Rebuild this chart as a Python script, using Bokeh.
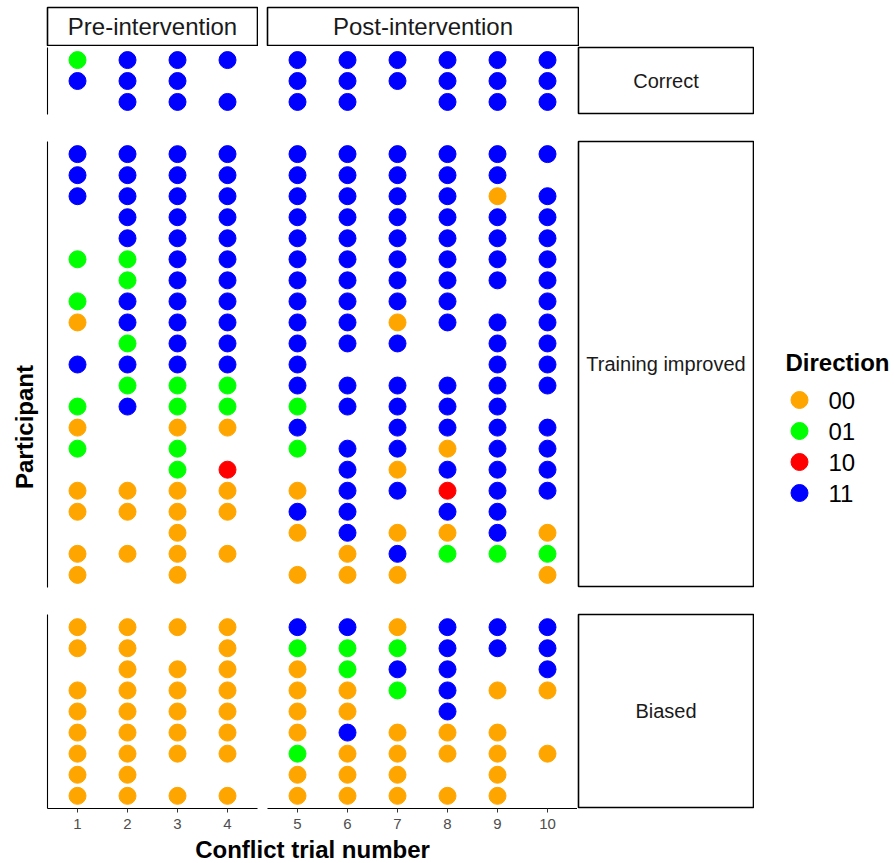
import math
from bokeh.plotting import figure
from bokeh.models import (ColumnDataSource, FactorRange, Range1d, LinearAxis,
                          CategoricalAxis, FixedTicker, Label, Spacer)
from bokeh.layouts import row, column
from bokeh.transform import factor_cmap
from bokeh.embed import file_html
from bokeh.resources import INLINE
from bokeh.core.properties import value

# ---------------- data ----------------
TRIALS_PRE = [1, 2, 3, 4]
TRIALS_POST = [5, 6, 7, 8, 9, 10]
PHASES = ["Pre-intervention", "Post-intervention"]
GROUPS = ["Correct", "Training improved", "Biased"]
DIRECTIONS = ["00", "01", "10", "11"]
DIR_COLORS = ["#FFA500", "#00FF00", "#FF0000", "#0000FF"]

# one list per participant (top to bottom): direction at trials 1..10, "" = none
correct = [
    ["01", "11", "11", "11", "11", "11", "11", "11", "11", "11"],
    ["11", "11", "11", "",   "11", "11", "11", "11", "11", "11"],
    ["",   "11", "11", "11", "11", "11", "",   "11", "11", "11"],
]
training_improved = [
    ["11", "11", "11", "11", "11", "11", "11", "11", "11", "11"],
    ["11", "11", "11", "11", "11", "11", "11", "11", "11", ""],
    ["11", "11", "11", "11", "11", "11", "11", "11", "00", "11"],
    ["",   "11", "11", "11", "11", "11", "11", "11", "11", "11"],
    ["",   "11", "11", "11", "11", "11", "11", "11", "11", "11"],
    ["01", "01", "11", "11", "11", "11", "11", "11", "11", "11"],
    ["",   "01", "11", "11", "11", "11", "11", "11", "11", "11"],
    ["01", "11", "11", "11", "11", "11", "11", "11", "",   "11"],
    ["00", "11", "11", "11", "11", "11", "00", "11", "11", "11"],
    ["",   "01", "11", "11", "11", "11", "11", "",   "11", "11"],
    ["11", "11", "11", "11", "11", "",   "",   "",   "11", "11"],
    ["",   "01", "01", "01", "11", "11", "11", "11", "11", "11"],
    ["01", "11", "01", "01", "01", "11", "11", "11", "11", ""],
    ["00", "",   "00", "00", "11", "",   "11", "11", "11", "11"],
    ["01", "",   "01", "",   "01", "11", "11", "00", "11", "11"],
    ["",   "",   "01", "10", "",   "11", "00", "11", "11", "11"],
    ["00", "00", "00", "00", "00", "11", "11", "10", "11", "11"],
    ["00", "00", "00", "00", "11", "11", "",   "11", "11", ""],
    ["",   "",   "00", "",   "00", "11", "00", "00", "11", "00"],
    ["00", "00", "00", "00", "",   "00", "11", "01", "01", "01"],
    ["00", "",   "00", "",   "00", "00", "00", "",   "",   "00"],
]
biased = [
    ["00", "00", "00", "00", "11", "11", "00", "11", "11", "11"],
    ["00", "00", "",   "00", "01", "01", "01", "11", "11", "11"],
    ["",   "00", "00", "00", "00", "01", "11", "11", "",   "11"],
    ["00", "00", "00", "00", "00", "00", "01", "11", "00", "00"],
    ["00", "00", "00", "00", "00", "00", "",   "11", "",   ""],
    ["00", "00", "00", "00", "00", "11", "00", "00", "00", ""],
    ["00", "00", "00", "00", "01", "00", "00", "00", "00", "00"],
    ["00", "00", "",   "",   "00", "00", "00", "",   "00", ""],
    ["00", "00", "00", "00", "00", "00", "00", "00", "00", ""],
]
GROUP_ROWS = [correct, training_improved, biased]
GROUP_IDS = ["C", "T", "B"]

# ---------------- layout / style ----------------
FONT = "Liberation Sans"
EXPAND = 0.6
PX_PER_TRIAL = 50
PX_PER_ROW = 21.05
TOP_PAD = 6
LEFT_W = 40
AXIS_PAD = 7
COL_GAP = 10
ROW_GAP = 27
AXIS_H = 28
STRIP_W = 175
TOP_STRIP_H = 40
TITLE_H = 28
LEGEND_W = 138
LEGEND_TOP = 332


def frame_w(trials):
    return round(PX_PER_TRIAL * (len(trials) - 1 + 2 * EXPAND))


def frame_h(n):
    return round(PX_PER_ROW * (n - 1 + 2 * EXPAND))


def base_fig(**kw):
    p = figure(toolbar_location=None, output_backend="svg",
               x_axis_location=None, y_axis_location=None, **kw)
    p.grid.visible = False
    p.outline_line_color = None
    p.background_fill_color = "white"
    p.border_fill_color = "white"
    return p


def strip_fig(text, w, h, size, pt=1, pb=1):
    p = base_fig(frame_width=w, frame_height=h,
                 x_range=Range1d(-1, 1), y_range=Range1d(-1, 1),
                 min_border_left=1, min_border_right=1,
                 min_border_top=pt, min_border_bottom=pb)
    p.outline_line_color = "black"
    p.outline_line_width = 1.6
    p.add_layout(Label(x=0, y=0, text=text, text_align="center",
                       text_baseline="middle", text_font=FONT,
                       text_font_size=size, text_color="#1A1A1A"))
    return p


def panel(rows, gid, trials, first_col, bottom_axis, fh, pad_b):
    pids = [f"{gid}{i + 1}" for i in range(len(rows))]
    xs, ys, ds = [], [], []
    for pid, r in zip(pids, rows):
        for t in trials:
            d = r[t - 1]
            if d:
                xs.append(t)
                ys.append(pid)
                ds.append(d)
    src = ColumnDataSource(dict(trial=xs, participant=ys, direction=ds))
    p = base_fig(frame_width=frame_w(trials), frame_height=fh,
                 x_range=Range1d(trials[0] - EXPAND, trials[-1] + EXPAND),
                 y_range=FactorRange(factors=pids[::-1],
                                     range_padding=EXPAND - 0.5,
                                     range_padding_units="absolute"),
                 min_border_left=AXIS_PAD if first_col else 0,
                 min_border_right=COL_GAP if first_col else 0,
                 min_border_top=0, min_border_bottom=pad_b)
    p.scatter("trial", "participant", source=src, size=17,
              color=factor_cmap("direction", DIR_COLORS, DIRECTIONS))
    if first_col:
        ax = CategoricalAxis(ticker=FixedTicker(ticks=[]),
                             major_tick_line_color=None, major_tick_out=0,
                             major_tick_in=0, major_label_standoff=0,
                             minor_tick_line_color=None,
                             axis_line_color="black", axis_line_width=1.1)
        p.add_layout(ax, "left")
    if bottom_axis:
        ax = LinearAxis(ticker=FixedTicker(ticks=trials),
                        axis_line_color="black", axis_line_width=1.1,
                        major_tick_line_color="#333333", major_tick_out=4,
                        major_tick_in=0, minor_tick_line_color=None,
                        major_label_text_font=FONT,
                        major_label_text_font_size="15px",
                        major_label_text_color="#4D4D4D",
                        major_label_standoff=6)
        p.add_layout(ax, "below")
    return p


# top strips
pre_w, post_w = frame_w(TRIALS_PRE), frame_w(TRIALS_POST)
top_row = row(
    Spacer(width=AXIS_PAD - 1, height=TOP_STRIP_H),
    strip_fig(PHASES[0], pre_w, TOP_STRIP_H - 2, "24px"),
    Spacer(width=COL_GAP - 2, height=TOP_STRIP_H),
    strip_fig(PHASES[1], post_w + 1, TOP_STRIP_H - 2, "24px"),
)

panel_rows = []
panels_total_h = 0
for i, (rows_, gid) in enumerate(zip(GROUP_ROWS, GROUP_IDS)):
    last = i == len(GROUP_ROWS) - 1
    fh = frame_h(len(rows_))
    pad_b = AXIS_H if last else ROW_GAP
    pre = panel(rows_, gid, TRIALS_PRE, True, last, fh, pad_b)
    post = panel(rows_, gid, TRIALS_POST, False, last, fh, pad_b)
    rs = strip_fig(GROUPS[i], STRIP_W, fh - 1, "20px", pt=1, pb=pad_b)
    panel_rows.append(row(pre, post, rs))
    panels_total_h += fh + (0 if last else ROW_GAP)

# x axis title
tfig = base_fig(frame_width=pre_w + COL_GAP + post_w, frame_height=TITLE_H,
                x_range=Range1d(0, 1), y_range=Range1d(0, 1),
                min_border_left=0, min_border_right=0,
                min_border_top=0, min_border_bottom=0)
tfig.add_layout(Label(x=0.5, y=0.5, text="Conflict trial number",
                      text_align="center", text_baseline="middle",
                      text_font=FONT, text_font_size="24px",
                      text_font_style="bold", text_color="black"))
title_row = row(Spacer(width=AXIS_PAD, height=TITLE_H), tfig)

mid = column(top_row, *panel_rows, title_row)

# y axis title
lfig = base_fig(frame_width=LEFT_W, frame_height=panels_total_h,
                x_range=Range1d(0, 1), y_range=Range1d(0, 1),
                min_border_left=0, min_border_right=0,
                min_border_top=0, min_border_bottom=0)
lfig.add_layout(Label(x=0.6, y=0.5, text="Participant", angle=math.pi / 2,
                      text_align="center", text_baseline="middle",
                      text_font=FONT, text_font_size="24px",
                      text_font_style="bold", text_color="black"))
left_col = column(Spacer(width=LEFT_W, height=TOP_STRIP_H), lfig)

# legend
LEG_PAD_L = 31
LEG_GLYPH_X = 14
leg = base_fig(frame_width=LEGEND_W - LEG_PAD_L, frame_height=31 * len(DIRECTIONS),
               x_range=Range1d(-LEG_GLYPH_X, LEGEND_W - LEG_PAD_L - LEG_GLYPH_X),
               y_range=FactorRange(factors=DIRECTIONS[::-1], range_padding=0),
               min_border_left=LEG_PAD_L, min_border_right=0,
               min_border_top=0, min_border_bottom=0, title="Direction")
leg.title.text_font = FONT
leg.title.text_font_size = "24px"
leg.title.text_font_style = "bold"
leg.title.text_color = "black"
leg.title.align = "left"
leg.title.standoff = 17
lsrc = ColumnDataSource(dict(direction=DIRECTIONS))
leg.scatter(x=0, y="direction", source=lsrc, size=17,
            color=factor_cmap("direction", DIR_COLORS, DIRECTIONS))
leg.text(x=0, y="direction", text="direction", source=lsrc, x_offset=29,
         text_align="left", text_baseline="middle", text_font=value(FONT),
         text_font_size="24px", text_color="black")
legend_col = column(Spacer(width=LEGEND_W, height=LEGEND_TOP), leg)

layout = column(Spacer(height=TOP_PAD, width=10),
                row(left_col, mid, legend_col))
open("out.html", "w").write(file_html(layout, INLINE))
